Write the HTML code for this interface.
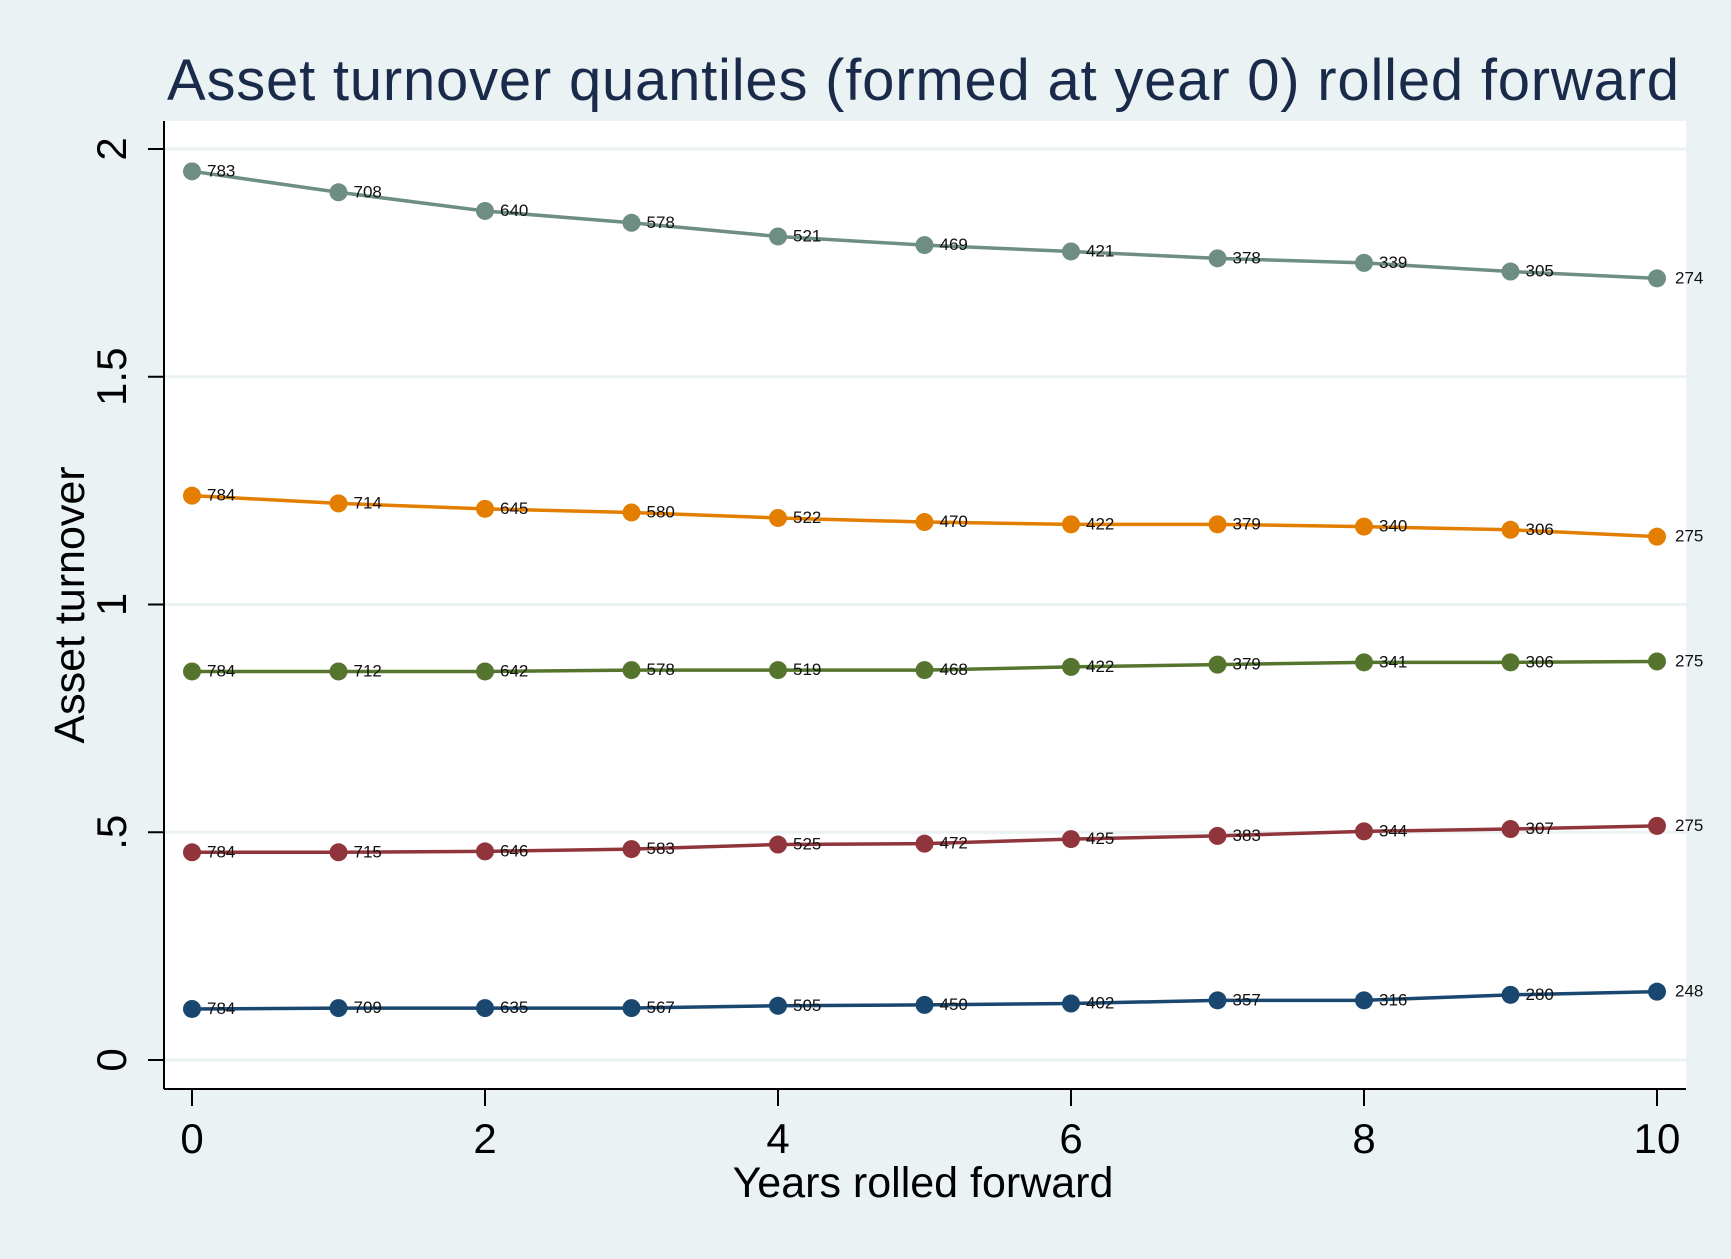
<!DOCTYPE html>
<html><head><meta charset="utf-8"><style>
html,body{margin:0;padding:0;background:#eaf2f3;}
svg{display:block;font-family:"Liberation Sans",Arial,sans-serif;}
</style></head><body>
<svg id="chart" width="1731" height="1259" viewBox="0 0 1731 1259">
<rect x="0" y="0" width="1731" height="1259" fill="#eaf2f3"/>
<text x="923" y="100" font-size="58" fill="#1a2a4a" text-anchor="middle" textLength="1512">Asset turnover quantiles (formed at year 0) rolled forward</text>
<rect x="164" y="121" width="1522" height="968" fill="#ffffff"/>
<g id="grid"></g>
<g id="series"></g>
<line x1="164" y1="121" x2="164" y2="1089" stroke="#000" stroke-width="2"/>
<line x1="164" y1="1089" x2="1686" y2="1089" stroke="#000" stroke-width="2"/>
<g id="axes"></g>
<text x="923" y="1197" font-size="43" fill="#000" text-anchor="middle">Years rolled forward</text>
<text x="0" y="0" font-size="43" fill="#000" text-anchor="middle" transform="translate(84,605) rotate(-90)">Asset turnover</text>
</svg>
<script>
const years = [0,1,2,3,4,5,6,7,8,9,10];
const q5Values = [1.951,1.905,1.864,1.838,1.808,1.789,1.775,1.760,1.750,1.731,1.716];
const q4Values = [1.239,1.222,1.210,1.202,1.190,1.181,1.176,1.176,1.171,1.164,1.149];
const q3Values = [0.853,0.853,0.853,0.856,0.856,0.856,0.863,0.868,0.873,0.873,0.875];
const q2Values = [0.456,0.456,0.458,0.463,0.473,0.475,0.485,0.492,0.502,0.507,0.514];
const q1Values = [0.112,0.114,0.114,0.114,0.119,0.121,0.124,0.131,0.131,0.143,0.150];
const q5Counts = [783,708,640,578,521,469,421,378,339,305,274];
const q4Counts = [784,714,645,580,522,470,422,379,340,306,275];
const q3Counts = [784,712,642,578,519,468,422,379,341,306,275];
const q2Counts = [784,715,646,583,525,472,425,383,344,307,275];
const q1Counts = [784,709,635,567,505,450,402,357,316,280,248];
const yTicks = [0,0.5,1,1.5,2];
const yTickLabels = ["0",".5","1","1.5","2"];
const xTicks = [0,2,4,6,8,10];
const xTickLabels = ["0","2","4","6","8","10"];

const NS = "http://www.w3.org/2000/svg";
function xs(v){ return 192 + (v-0)/(10-0)*(1657-192); }
function ys(v){ return 1060 - (v-0)/(2-0)*(1060-149); }
function mk(tag, attrs, parent){ const e=document.createElementNS(NS,tag); for(const k in attrs) e.setAttribute(k,attrs[k]); parent.appendChild(e); return e; }

const grid=document.getElementById('grid'), axes=document.getElementById('axes'), seriesG=document.getElementById('series');
yTicks.forEach((t,i)=>{
  const y=ys(t);
  const g=mk('line',{x1:164,x2:1686,y1:y,y2:y,stroke:'#eaf2f3','stroke-width':3},grid);
  
  
  const tk=mk('line',{x1:148,x2:164,y1:y,y2:y,stroke:'#000','stroke-width':2},axes);
  
  
  const tx=mk('text',{x:0,y:0,'font-size':42,'text-anchor':'middle',fill:'#000',transform:`translate(126,${y}) rotate(-90)`},axes);
  tx.textContent=yTickLabels[i];
  
  
});
xTicks.forEach((t,i)=>{
  const x=xs(t);
  const tk=mk('line',{x1:x,x2:x,y1:1089,y2:1106,stroke:'#000','stroke-width':2},axes);
  
  
  const tx=mk('text',{x:x,y:1153,'font-size':42,'text-anchor':'middle',fill:'#000'},axes);
  tx.textContent=xTickLabels[i];
  
  
});

const series=[
  {name:'quantile-5',vals:q5Values,counts:q5Counts,color:'#6e8e84'},
  {name:'quantile-4',vals:q4Values,counts:q4Counts,color:'#e37e00'},
  {name:'quantile-3',vals:q3Values,counts:q3Counts,color:'#55752f'},
  {name:'quantile-2',vals:q2Values,counts:q2Counts,color:'#90353b'},
  {name:'quantile-1',vals:q1Values,counts:q1Counts,color:'#1a476f'}
];
series.forEach(s=>{
  const g=mk('g',{},seriesG);
  
  
  const pts=years.map((yr,i)=>xs(yr)+','+ys(s.vals[i])).join(' ');
  const pl=mk('polyline',{points:pts,fill:'none',stroke:s.color,'stroke-width':3.5},g);
  
  
  years.forEach((yr,i)=>{
    const c=mk('circle',{cx:xs(yr),cy:ys(s.vals[i]),r:9,fill:s.color},g);
    
    
    const last=i===years.length-1;
    const t=mk('text',{x:xs(yr)+(last?18:15),y:ys(s.vals[i])+5,'font-size':17,fill:'#111'},g);
    t.textContent=s.counts[i];
    
    
  });
});
</script>
</body></html>
